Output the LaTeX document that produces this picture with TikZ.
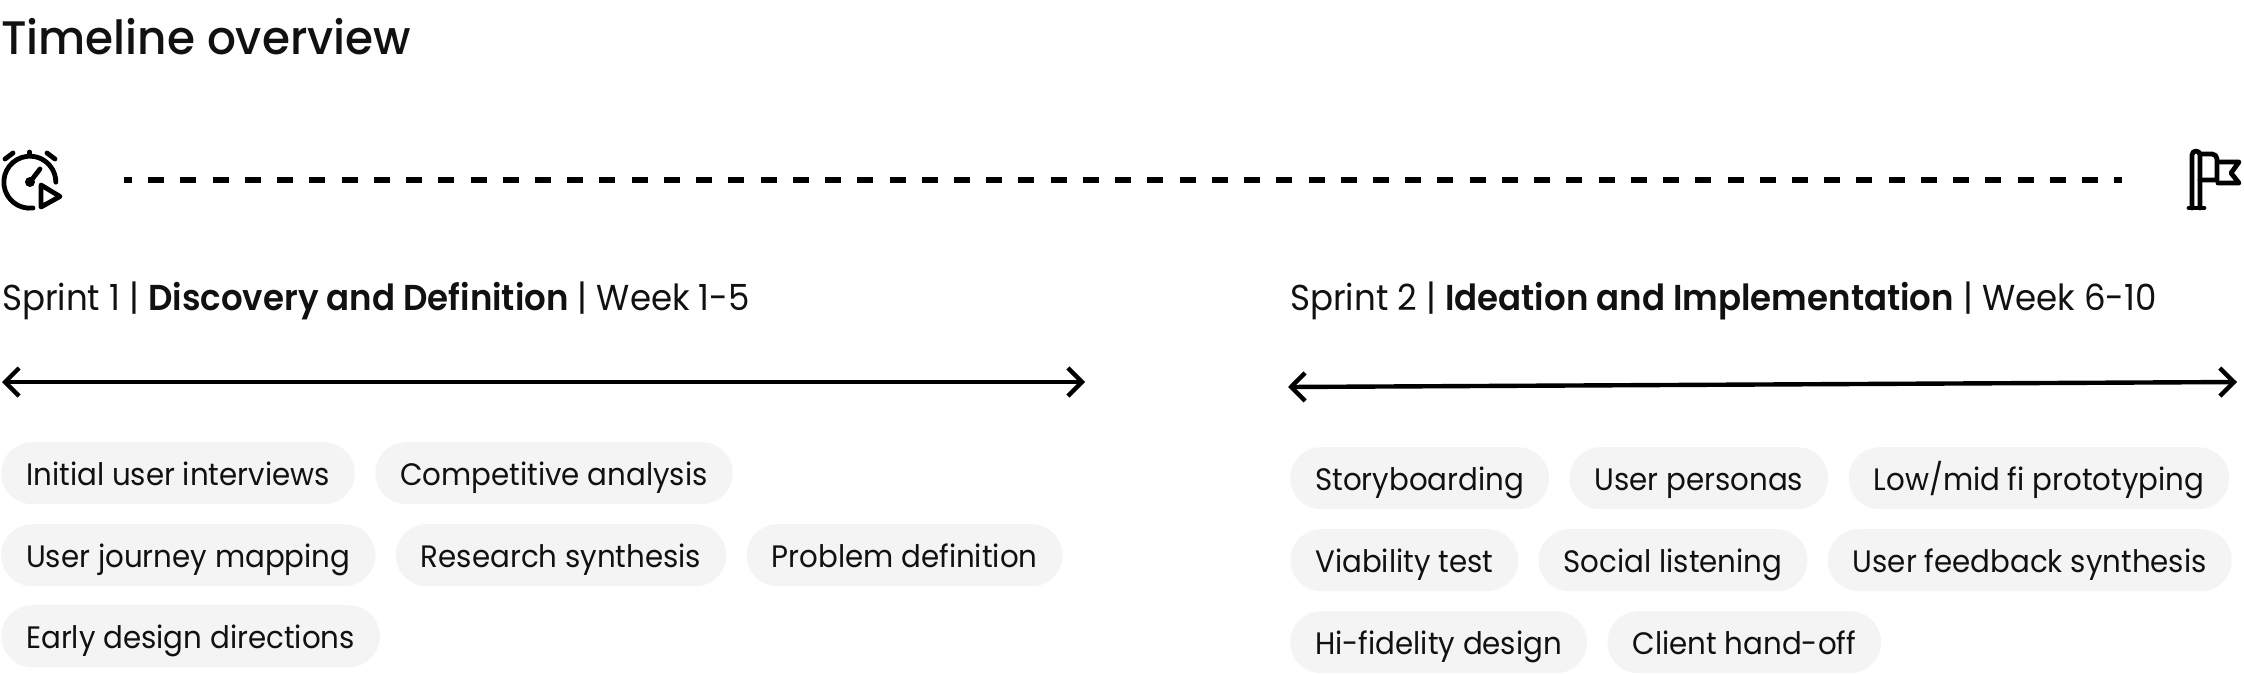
\documentclass[tikz,border=0pt]{standalone}
\usepackage{fontspec}
\setmainfont{Poppins}[BoldFont={Poppins SemiBold},FakeStretch=0.945]
\newfontfamily\titlefont{Poppins Medium}[FakeStretch=0.965]
\newfontfamily\pillfont{Poppins}[FakeStretch=0.945]
\usepackage{tikz}
\usetikzlibrary{arrows.meta,positioning}
\definecolor{pillgray}{HTML}{F4F4F4}
\definecolor{inkblack}{HTML}{111111}
\tikzset{
  pill/.style={rounded corners=31pt,fill=pillgray,text=inkblack,inner xsep=25pt,inner ysep=0pt,minimum height=62pt,text height=30pt,text depth=6pt,font=\fontsize{31}{36}\pillfont},
  txt/.style={anchor=base west,inner sep=0pt,text=inkblack,font=\fontsize{36}{40}\selectfont},
  spanline/.style={{Straight Barb[length=14pt,width=28pt]}-{Straight Barb[length=14pt,width=28pt]},line width=4.4pt,draw=black},
  icon/.style={line width=4.8pt,draw=black,line cap=round,line join=round}
}
\begin{document}
\begin{tikzpicture}[x=1pt,y=-1pt,node distance=20pt]
\useasboundingbox (0,0) rectangle (2244,673);
\node (title) [txt,font=\fontsize{47}{54}\titlefont] at (1,54) {Timeline overview};
% timeline
\coordinate (tlstart) at (124,180);
\coordinate (tlend) at (2122,180);
\draw [line width=6pt,draw=black,dash pattern=on 16pt off 16.23pt,dash phase=8pt] (tlstart) -- (tlend);
% clock
\draw [icon] (33,208) arc (83:360:26);
\draw [icon] (29.5,152) -- (29.5,154);
\draw [icon] (5,159) -- (13,153);
\draw [icon] (47,153) -- (55,159);
\draw [icon] (30,182) -- (40,169);
\fill (30,182) circle (5);
\draw [icon] (41,185) -- (60,196.5) -- (41,207) -- cycle;
% flag
\draw [icon] (2192,208) -- (2192,155) arc (180:360:4) -- (2200,208);
\draw [icon] (2189,208) -- (2204,208);
\draw [icon] (2200,154) -- (2212,154) arc (270:360:5) -- (2217,180) -- (2200,180);
\draw [icon] (2218,162) -- (2239,162) -- (2231,173) -- (2239,183) -- (2218,183);
% sprint 1
\node (sprintone) [txt] at (2,310) {Sprint 1 | \textbf{Discovery and Definition} | Week 1-5};
\coordinate (onestart) at (2,382);
\coordinate (oneend) at (1085,382);
\draw [spanline] (onestart) -- (oneend);
\node (interviews) [pill,anchor=north west] at (1,442) {Initial user interviews};
\node (competitive) [pill,right=of interviews] {Competitive analysis};
\node (journey) [pill,anchor=north west] at (1,524) {User journey mapping};
\node (research) [pill,right=of journey] {Research synthesis};
\node (problem) [pill,right=of research] {Problem definition};
\node (directions) [pill,anchor=north west] at (1,605) {Early design directions};
% sprint 2
\node (sprinttwo) [txt] at (1290,310) {Sprint 2 | \textbf{Ideation and Implementation} | Week 6-10};
\coordinate (twostart) at (1288,387);
\coordinate (twoend) at (2237,382);
\draw [spanline] (twostart) -- (twoend);
\node (story) [pill,anchor=north west] at (1290,447) {Storyboarding};
\node (personas) [pill,right=of story] {User personas};
\node (prototyping) [pill,right=of personas] {Low/mid fi prototyping};
\node (viability) [pill,anchor=north west] at (1290,529) {Viability test};
\node (listening) [pill,right=of viability] {Social listening};
\node (feedback) [pill,right=of listening] {User feedback synthesis};
\node (hifi) [pill,anchor=north west] at (1290,611) {Hi-fidelity design};
\node (handoff) [pill,right=of hifi] {Client hand-off};
\end{tikzpicture}
\end{document}
